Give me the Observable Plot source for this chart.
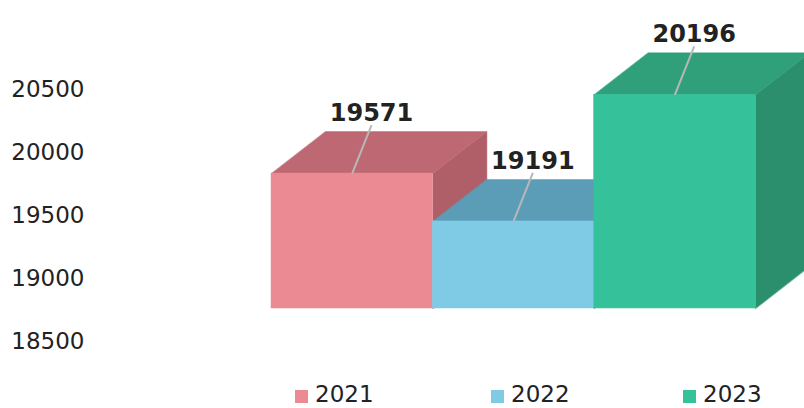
<!DOCTYPE html>
<html>
<head>
<meta charset="utf-8">
<script src="https://cdn.jsdelivr.net/npm/d3@7"></script>
<script src="https://cdn.jsdelivr.net/npm/@observablehq/plot@0.6"></script>
<style>
  html, body { margin: 0; padding: 0; background: #fff; }
  body { width: 804px; height: 408px; overflow: hidden; font-family: "DejaVu Sans", Verdana, sans-serif; }
  #legend { position: relative; height: 38px; }
  .item { position: absolute; top: 11px; display: flex; align-items: center; font-size: 23px; line-height: 27px; color: #222; }
  .sw { width: 13px; height: 13px; margin-right: 7px; margin-top: 3px; }
</style>
</head>
<body>
<div id="chart"></div>
<div id="legend"></div>
<script>
// ---- data ----
const years = ["2021", "2022", "2023"];
const values = [19571, 19191, 20196];
const yTicks = [18500, 19000, 19500, 20000, 20500];
const baseline = 18500;
const frontColors = ["#ec8a93", "#7fcbe6", "#35c29b"];
const topColors = ["#bd6872", "#5b9cb6", "#30a07b"];
const sideColors = ["#b05f69", "#528fa8", "#2b8f6e"];

// ---- 3D helpers (depth in data units) ----
const DX = 0.335;   // depth offset along x (category units)
const DY = 333;     // depth offset along y (value units)
const LX = 0.12, LY = 385; // leader line offsets

const tops = [], sides = [], fronts = [], labels = [];
years.forEach((yr, i) => {
  const v = values[i];
  [[i, v], [i + 1, v], [i + 1 + DX, v + DY], [i + DX, v + DY]]
    .forEach(([x, y]) => tops.push({id: yr, x, y, c: topColors[i]}));
  [[i + 1, baseline], [i + 1, v], [i + 1 + DX, v + DY], [i + 1 + DX, baseline + DY]]
    .forEach(([x, y]) => sides.push({id: yr, x, y, c: sideColors[i]}));
  fronts.push({x1: i, x2: i + 1, y1: baseline, y2: v, c: frontColors[i]});
  labels.push({x1: i + 0.5, y1: v, x2: i + 0.5 + LX, y2: v + LY, text: String(v)});
});

const chart = Plot.plot({
  width: 804,
  height: 370,
  marginLeft: 271,
  marginRight: 49,
  marginTop: 56,
  marginBottom: 62,
  style: {fontFamily: "DejaVu Sans, Verdana, sans-serif", fontSize: "23px", background: "#fff", overflow: "visible"},
  x: {type: "linear", domain: [0, 3], axis: null},
  y: {type: "linear", domain: [18500, 20500], axis: null},
  marks: [
    Plot.line(sides, {x: "x", y: "y", z: "id", fill: "c", stroke: "c", strokeWidth: 0.5, curve: "linear-closed"}),
    Plot.line(tops, {x: "x", y: "y", z: "id", fill: "c", stroke: "c", strokeWidth: 0.5, curve: "linear-closed"}),
    Plot.rect(fronts, {x1: "x1", x2: "x2", y1: "y1", y2: "y2", fill: "c", stroke: "c", strokeWidth: 0.5}),
    Plot.link(labels, {x1: "x1", y1: "y1", x2: "x2", y2: "y2", stroke: "#b8b8b8", strokeWidth: 2}),
    Plot.text(labels, {x: "x2", y: "y2", text: "text", dy: -4, lineAnchor: "bottom", fontWeight: "bold", fontSize: 24, fill: "#222"}),
    Plot.text(yTicks, {y: d => d, text: d => String(d), frameAnchor: "left", textAnchor: "end", dx: -187, dy: 33, fill: "#222", fontSize: 23})
  ]
});
document.getElementById("chart").appendChild(chart);

// ---- legend ----
const legend = document.getElementById("legend");
const legendLeft = [295, 491, 683];
years.forEach((yr, i) => {
  const it = document.createElement("div");
  it.className = "item";
  it.style.left = legendLeft[i] + "px";
  const sw = document.createElement("span");
  sw.className = "sw";
  sw.style.background = frontColors[i];
  const t = document.createElement("span");
  t.textContent = yr;
  it.appendChild(sw);
  it.appendChild(t);
  legend.appendChild(it);
});
</script>
</body>
</html>
